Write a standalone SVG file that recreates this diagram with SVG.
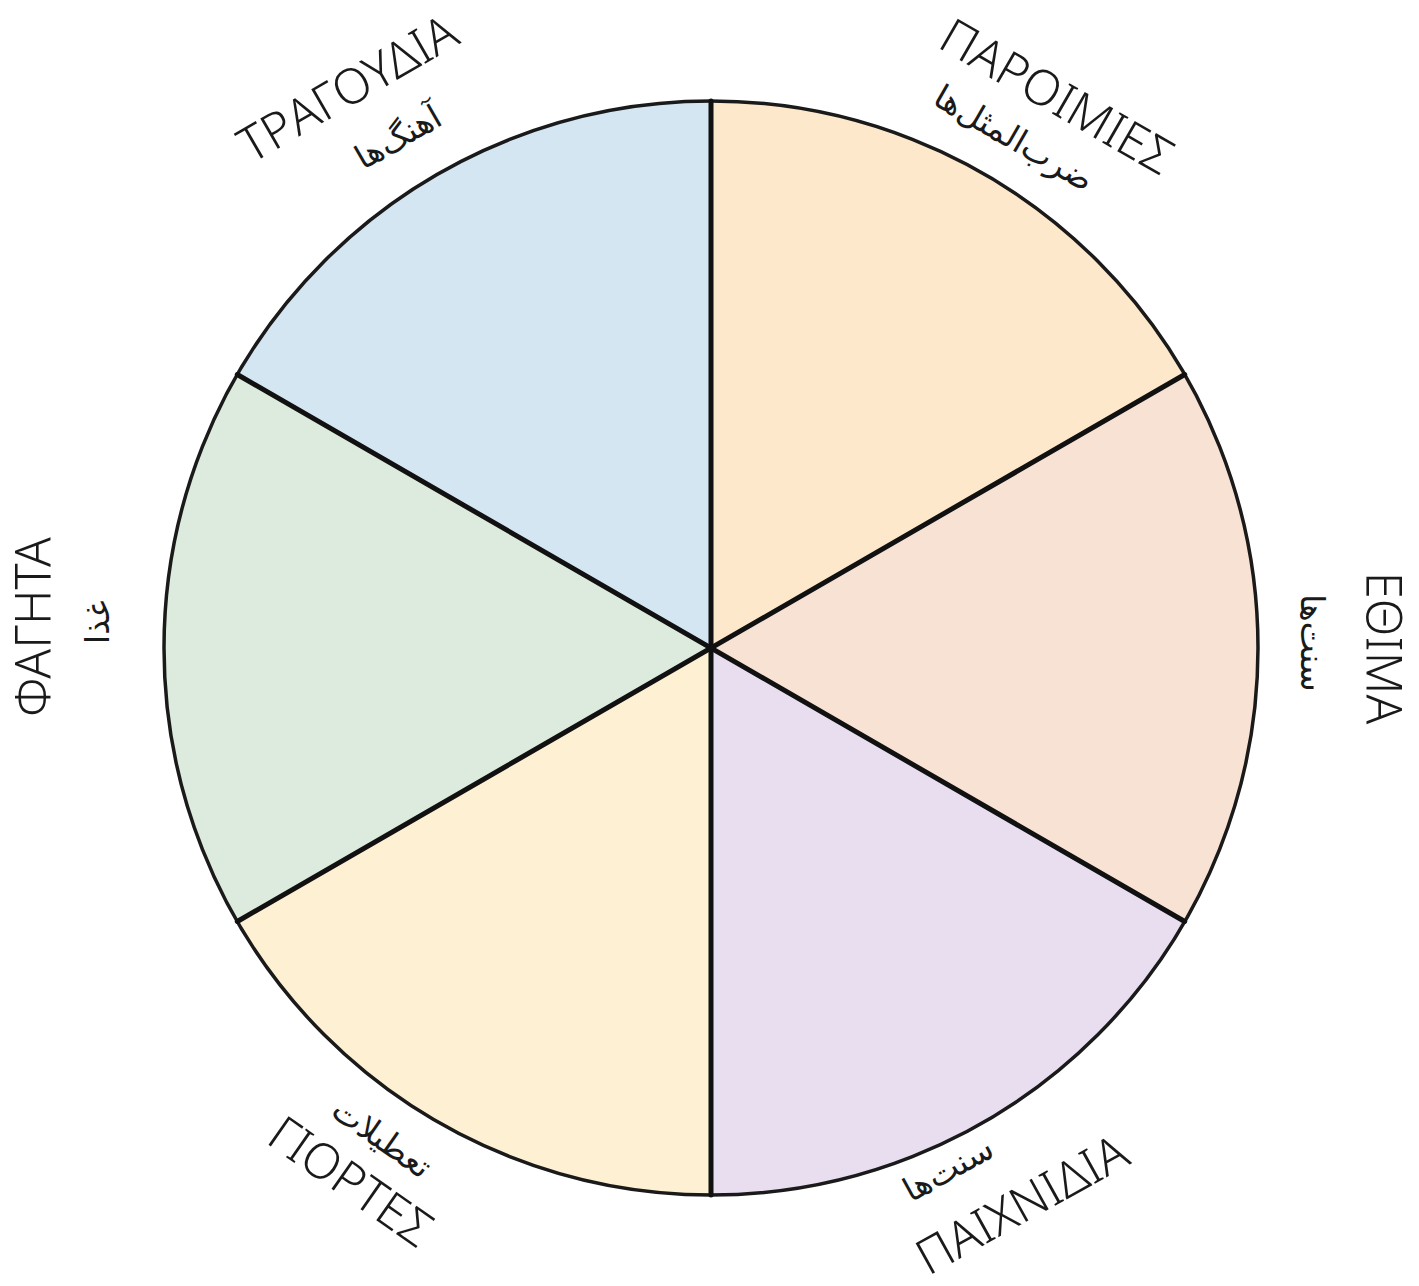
<svg xmlns="http://www.w3.org/2000/svg" width="1419" height="1286" viewBox="0 0 1419 1286">
<style>
.gr{font-family:"Noto Sans","DejaVu Sans",sans-serif;font-size:49px;font-weight:300;fill:#1a1a1a;text-anchor:middle;dominant-baseline:central}
.fa{font-family:"DejaVu Sans",sans-serif;font-size:33px;fill:#1a1a1a;text-anchor:middle;dominant-baseline:central}
.wedge{stroke:none}
.div{stroke:#111;stroke-width:5;fill:none;stroke-linecap:round}
</style>
<rect width="1419" height="1286" fill="#ffffff"/>
<g id="segments">
<g id="paroimies-seg"><path class="wedge" fill="#fde8cb" d="M711,648 L711,101 A547,547 0 0 1 1184.7,374.5 Z"/></g>
<g id="ethima-seg"><path class="wedge" fill="#f8e2d4" d="M711,648 L1184.7,374.5 A547,547 0 0 1 1184.7,921.5 Z"/></g>
<g id="paixnidia-seg"><path class="wedge" fill="#e8deef" d="M711,648 L1184.7,921.5 A547,547 0 0 1 711,1195 Z"/></g>
<g id="giortes-seg"><path class="wedge" fill="#fdf0d3" d="M711,648 L711,1195 A547,547 0 0 1 237.3,921.5 Z"/></g>
<g id="fagita-seg"><path class="wedge" fill="#dcebdd" d="M711,648 L237.3,921.5 A547,547 0 0 1 237.3,374.5 Z"/></g>
<g id="tragoudia-seg"><path class="wedge" fill="#d5e6f3" d="M711,648 L237.3,374.5 A547,547 0 0 1 711,101 Z"/></g>
</g>
<g id="connectors">
<circle cx="711" cy="648" r="547" fill="none" stroke="#1a1a1a" stroke-width="3.5"/>
<line class="div" x1="711" y1="101" x2="711" y2="1195"/>
<line class="div" x1="237.3" y1="374.5" x2="1184.7" y2="921.5"/>
<line class="div" x1="237.3" y1="921.5" x2="1184.7" y2="374.5"/>
</g>
<g id="label-tragoudia">
<text class="gr" transform="translate(347,87) rotate(-30)">ΤΡΑΓΟΥΔΙΑ</text>
<text class="fa" transform="translate(398,137) rotate(-30)">آهنگ‌ها</text>
</g>
<g id="label-paroimies">
<text class="gr" transform="translate(1058,95) rotate(30)">ΠΑΡΟΙΜΙΕΣ</text>
<text class="fa" transform="translate(1014,138) rotate(30)">ضرب‌المثل‌ها</text>
</g>
<g id="label-ethima">
<text class="gr" transform="translate(1385,648) rotate(90)">ΕΘΙΜΑ</text>
<text class="fa" transform="translate(1312,643) rotate(90)">سنت‌ها</text>
</g>
<g id="label-fagita">
<text class="gr" transform="translate(32,627) rotate(-90)">ΦΑΓΗΤΑ</text>
<text class="fa" transform="translate(97,622) rotate(-90)">غذا</text>
</g>
<g id="label-giortes">
<text class="gr" transform="translate(352,1180) rotate(35)">ΓΙΟΡΤΕΣ</text>
<text class="fa" transform="translate(382,1138) rotate(35)">تعطیلات</text>
</g>
<g id="label-paixnidia">
<text class="gr" transform="translate(1021,1203) rotate(-29)">ΠΑΙΧΝΙΔΙΑ</text>
<text class="fa" transform="translate(948,1169) rotate(-29)">سنت‌ها</text>
</g>
</svg>
